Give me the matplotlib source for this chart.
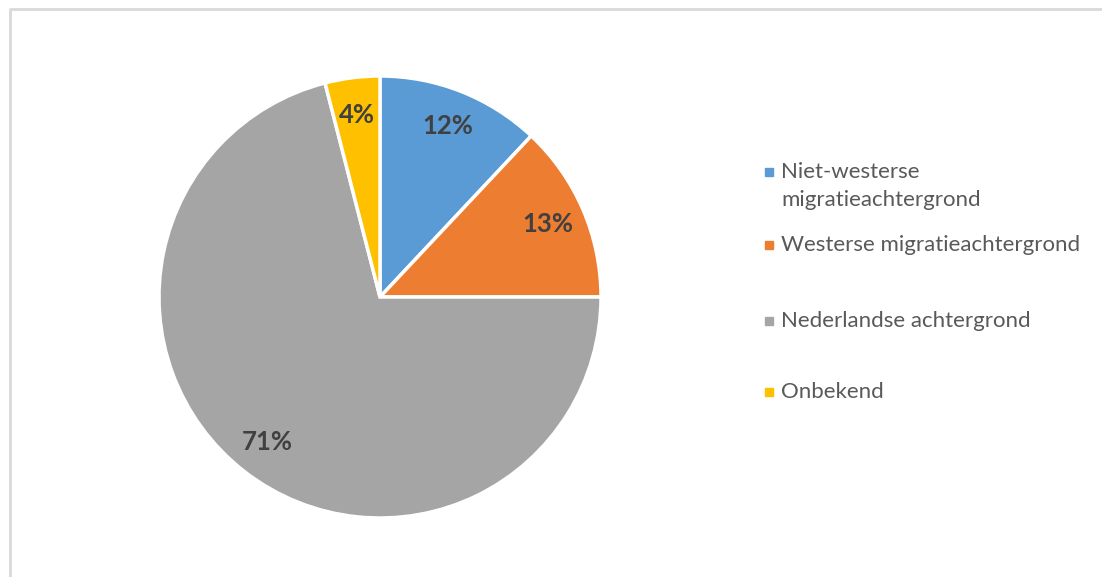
import matplotlib.pyplot as plt
from matplotlib.lines import Line2D
from matplotlib.patches import Rectangle

categories = ["Niet-westerse\nmigratieachtergrond", "Westerse migratieachtergrond",
              "Nederlandse achtergrond", "Onbekend"]
shares = [12, 13, 71, 4]
colors = ["#5B9BD5", "#ED7D31", "#A5A5A5", "#FFC000"]

W, H = 1102, 577
plt.rcParams['font.family'] = ['Lato', 'DejaVu Sans']

fig = plt.figure(figsize=(W / 100, H / 100), dpi=100)

# pie centred at (380, 297) px, radius ~221 px
cx, cy, r = 380, 297, 221
ax = fig.add_axes([(cx - r) / W, (H - cy - r) / H, 2 * r / W, 2 * r / H])
wedges, texts, autotexts = ax.pie(
    shares, colors=colors, startangle=90, counterclock=False,
    autopct=lambda p: f"{p:.0f}%", pctdistance=0.83,
    wedgeprops=dict(edgecolor="white", linewidth=2.5),
    textprops=dict(fontsize=18.5, fontweight="bold", color="#404040"))
ax.set_aspect("equal")
ax.set_xlim(-1, 1)
ax.set_ylim(-1, 1)

# legend drawn by hand to match the uneven spacing
leg_y = [172, 245, 321, 392]
for lab, col, y in zip(categories, colors, leg_y):
    fig.patches.append(Rectangle(((765) / W, (H - y - 4) / H), 8 / W, 8 / H,
                                 transform=fig.transFigure, color=col))
    lines = lab.split("\n")
    for i, ln in enumerate(lines):
        fig.text(781 / W, (H - y - 28 * i) / H, ln, fontsize=16,
                 color="#595959", va="center", ha="left")

# chart area border (top and left visible)
fig.add_artist(Line2D([10 / W, 10 / W, 1.0], [0.0, (H - 9) / H, (H - 9) / H],
                      transform=fig.transFigure, color="#D9D9D9", linewidth=2))

fig.savefig("out.png", dpi=100)
